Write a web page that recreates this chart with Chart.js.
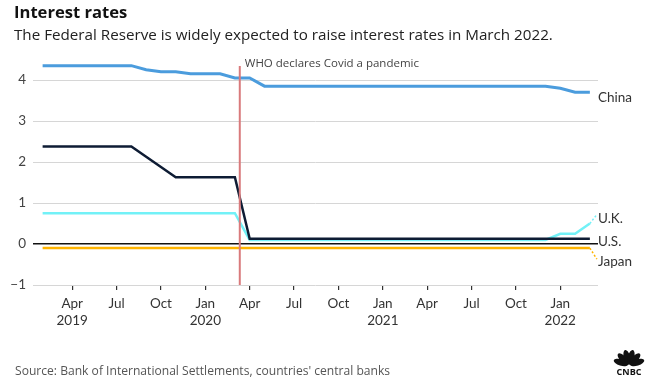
<!DOCTYPE html>
<html>
<head>
<meta charset="utf-8">
<script src="https://cdn.jsdelivr.net/npm/chart.js@4"></script>
<style>
  html, body { margin: 0; padding: 0; background: #fff; }
  #wrap { position: relative; width: 666px; height: 384px; }
</style>
</head>
<body>
<div id="wrap"><canvas id="myChart" width="666" height="384"></canvas></div>
<script>
(function () {
    'use strict';

    // ── Data (x = months since Jan 2019, so 1 = Feb 2019) ──────────────────────
    const months = [1, 2, 3, 4, 5, 6, 7, 8, 9, 10, 11, 12, 13, 14, 15, 16, 17, 18, 19,
                    20, 21, 22, 23, 24, 25, 26, 27, 28, 29, 30, 31, 32, 33, 34, 35, 36, 37, 38];

    const china = [4.35, 4.35, 4.35, 4.35, 4.35, 4.35, 4.35, 4.25, 4.20, 4.20, 4.15, 4.15, 4.15,
                   4.05, 4.05, 3.85, 3.85, 3.85, 3.85, 3.85, 3.85, 3.85, 3.85, 3.85, 3.85, 3.85,
                   3.85, 3.85, 3.85, 3.85, 3.85, 3.85, 3.85, 3.85, 3.85, 3.80, 3.70, 3.70];

    const us    = [2.38, 2.38, 2.38, 2.38, 2.38, 2.38, 2.38, 2.13, 1.88, 1.63, 1.63, 1.63, 1.63,
                   1.63, 0.13, 0.13, 0.13, 0.13, 0.13, 0.13, 0.13, 0.13, 0.13, 0.13, 0.13, 0.13,
                   0.13, 0.13, 0.13, 0.13, 0.13, 0.13, 0.13, 0.13, 0.13, 0.13, 0.13, 0.13];

    const uk    = [0.75, 0.75, 0.75, 0.75, 0.75, 0.75, 0.75, 0.75, 0.75, 0.75, 0.75, 0.75, 0.75,
                   0.75, 0.10, 0.10, 0.10, 0.10, 0.10, 0.10, 0.10, 0.10, 0.10, 0.10, 0.10, 0.10,
                   0.10, 0.10, 0.10, 0.10, 0.10, 0.10, 0.10, 0.10, 0.10, 0.25, 0.25, 0.50];

    const japan = [-0.1, -0.1, -0.1, -0.1, -0.1, -0.1, -0.1, -0.1, -0.1, -0.1, -0.1, -0.1, -0.1,
                   -0.1, -0.1, -0.1, -0.1, -0.1, -0.1, -0.1, -0.1, -0.1, -0.1, -0.1, -0.1, -0.1,
                   -0.1, -0.1, -0.1, -0.1, -0.1, -0.1, -0.1, -0.1, -0.1, -0.1, -0.1, -0.1];

    // x-axis ticks (quarters) and their labels
    const tickMonths = [3, 6, 9, 12, 15, 18, 21, 24, 27, 30, 33, 36];
    const tickLabels = [['Apr', '2019'], 'Jul', 'Oct', ['Jan', '2020'], 'Apr', 'Jul', 'Oct',
                        ['Jan', '2021'], 'Apr', 'Jul', 'Oct', ['Jan', '2022']];
    const yTicks = [-1, 0, 1, 2, 3, 4];

    const covidMonth = 14.33; // 11 Mar 2020

    const FONT = 'Lato, "Open Sans", sans-serif';
    const TEXT_FONT = '"Open Sans", Lato, sans-serif';

    const COLORS = {
        china: '#4b9cdd',
        us:    '#0e1c34',
        uk:    '#72f1f7',
        japan: '#ffb400',
        covid: '#d97a7c'
    };

    const toPoints = (vals) => vals.map((v, i) => ({ x: months[i], y: v }));

    // ── Overlay: titles, covid marker, end labels, logo ────────────────────────
    const overlayPlugin = {
        id: 'overlay',
        afterDatasetsDraw(chart) {
            const { ctx, chartArea, scales } = chart;
            const xs = scales.x, ys = scales.y;
            ctx.save();

            // covid line
            const cx = xs.getPixelForValue(covidMonth);
            ctx.strokeStyle = COLORS.covid;
            ctx.lineWidth = 2;
            ctx.beginPath();
            ctx.moveTo(cx, 66);
            ctx.lineTo(cx, chartArea.bottom);
            ctx.stroke();

            ctx.fillStyle = '#444';
            ctx.font = '11.5px ' + TEXT_FONT;
            ctx.textAlign = 'left';
            ctx.textBaseline = 'middle';
            ctx.fillText('WHO declares Covid a pandemic', cx + 5, 64);

            // end labels + connectors
            const last = months.length - 1;
            const endX = xs.getPixelForValue(months[last]);
            const lx = chartArea.right;
            ctx.font = '13.5px ' + FONT;
            ctx.fillStyle = '#333';

            ctx.fillText('China', lx, ys.getPixelForValue(china[last]) + 5);

            const ukY = ys.getPixelForValue(uk[last]);
            ctx.fillText('U.K.', lx, ukY - 5);
            const usY = ys.getPixelForValue(us[last]);
            ctx.fillText('U.S.', lx, usY + 2.5);
            const jpY = ys.getPixelForValue(japan[last]);
            ctx.fillText('Japan', lx, jpY + 14);

            ctx.lineWidth = 1.5;
            ctx.setLineDash([2, 2]);
            ctx.strokeStyle = COLORS.uk;
            ctx.beginPath();
            ctx.moveTo(endX, ukY); ctx.lineTo(endX + 7, ukY - 9);
            ctx.stroke();
            ctx.strokeStyle = COLORS.japan;
            ctx.beginPath();
            ctx.moveTo(endX, jpY); ctx.lineTo(endX + 7, jpY + 11);
            ctx.stroke();
            ctx.setLineDash([]);

            // titles
            ctx.textBaseline = 'alphabetic';
            ctx.fillStyle = '#111';
            ctx.font = 'bold 16.6px ' + TEXT_FONT;
            ctx.fillText('Interest rates', 14, 17.5);
            ctx.fillStyle = '#222';
            ctx.font = '15.2px ' + TEXT_FONT;
            ctx.fillText('The Federal Reserve is widely expected to raise interest rates in March 2022.', 14, 39.5);
            ctx.fillStyle = '#555';
            ctx.font = '12.1px ' + TEXT_FONT;
            ctx.fillText("Source: Bank of International Settlements, countries' central banks", 15, 374.5);

            // peacock logo
            const px = 629, py = 366;
            ctx.fillStyle = '#111';
            [-72, -43, -14, 14, 43, 72].forEach((deg) => {
                const a = deg * Math.PI / 180;
                ctx.save();
                ctx.translate(px + Math.sin(a) * 8.5, py - 1 - Math.cos(a) * 8);
                ctx.rotate(a);
                ctx.beginPath();
                ctx.ellipse(0, 0, 3.2, 7.5, 0, 0, Math.PI * 2);
                ctx.fill();
                ctx.restore();
            });
            ctx.font = 'bold 9px ' + TEXT_FONT;
            ctx.textAlign = 'center';
            ctx.fillText('CNBC', px, 375);

            ctx.restore();
        }
    };

    // ── Chart ──────────────────────────────────────────────────────────────────
    const chartCtx = document.getElementById('myChart').getContext('2d');
    new Chart(chartCtx, {
        type: 'line',
        data: {
            datasets: [
                { label: 'China', data: toPoints(china), borderColor: COLORS.china, borderWidth: 3 },
                { label: 'U.S.',  data: toPoints(us),    borderColor: COLORS.us,    borderWidth: 2.5 },
                { label: 'U.K.',  data: toPoints(uk),    borderColor: COLORS.uk,    borderWidth: 2.5 },
                { label: 'Japan', data: toPoints(japan), borderColor: COLORS.japan, borderWidth: 2.5 }
            ]
        },
        options: {
            responsive: false,
            animation: false,
            events: [],
            elements: { point: { radius: 0 }, line: { tension: 0, borderCapStyle: 'butt' } },
            layout: { padding: { top: 59.5, right: 68, bottom: 0, left: 0 } },
            plugins: { legend: { display: false }, tooltip: { enabled: false } },
            scales: {
                x: {
                    type: 'linear',
                    min: 0.35,
                    max: 38.55,
                    afterBuildTicks: (s) => { s.ticks = tickMonths.map((v) => ({ value: v })); },
                    afterFit: (s) => { s.height = 99; },
                    border: { display: false },
                    grid: { drawOnChartArea: false, drawTicks: true, tickLength: 5, color: '#333', lineWidth: 1.2 },
                    ticks: {
                        autoSkip: false,
                        maxRotation: 0,
                        padding: 6,
                        color: '#333',
                        font: { family: FONT, size: 13.5, lineHeight: 1.2 },
                        callback: (v) => tickLabels[tickMonths.indexOf(v)]
                    }
                },
                y: {
                    min: -1,
                    max: 4.5,
                    afterBuildTicks: (s) => { s.ticks = yTicks.map((v) => ({ value: v })); },
                    afterFit: (s) => { s.width = 33; },
                    border: { display: false },
                    grid: {
                        drawTicks: false,
                        color: (c) => c.tick && c.tick.value === 0 ? '#111' : '#d6d6d6',
                        lineWidth: (c) => c.tick && c.tick.value === 0 ? 1.6 : 1
                    },
                    ticks: {
                        padding: 7,
                        color: '#444',
                        font: { family: FONT, size: 13.5 },
                        callback: (v) => v < 0 ? '\u2212' + Math.abs(v) : String(v)
                    }
                }
            }
        },
        plugins: [overlayPlugin]
    });
}());
</script>
</body>
</html>
